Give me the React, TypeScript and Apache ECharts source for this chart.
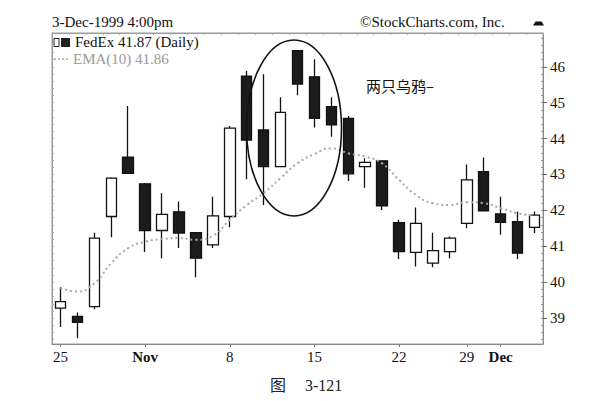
import React, { useEffect, useRef } from "react";
import * as echarts from "echarts";

// Trading days, 25-Oct-1999 .. 3-Dec-1999
const categories = [
  "1999-10-25", "1999-10-26", "1999-10-27", "1999-10-28", "1999-10-29",
  "1999-11-01", "1999-11-02", "1999-11-03", "1999-11-04", "1999-11-05",
  "1999-11-08", "1999-11-09", "1999-11-10", "1999-11-11", "1999-11-12",
  "1999-11-15", "1999-11-16", "1999-11-17", "1999-11-18", "1999-11-19",
  "1999-11-22", "1999-11-23", "1999-11-24", "1999-11-26",
  "1999-11-29", "1999-11-30", "1999-12-01", "1999-12-02", "1999-12-03",
];

const openValues = [
  39.28, 39.05, 39.32, 41.83, 43.48,
  42.74, 41.44, 41.96, 41.38, 41.04,
  41.83, 45.74, 44.24, 43.22, 46.45,
  45.72, 44.89, 44.56, 43.22, 43.38,
  41.66, 40.83, 40.53, 40.85,
  41.64, 43.08, 41.90, 41.69, 41.53,
];
const closeValues = [
  39.46, 38.88, 41.23, 42.90, 43.03,
  41.44, 41.89, 41.37, 40.67, 41.85,
  44.29, 43.96, 43.22, 44.73, 45.52,
  44.56, 44.38, 43.02, 43.34, 42.13,
  40.85, 41.64, 40.88, 41.23,
  42.85, 41.99, 41.67, 40.81, 41.87,
];
const lowValues = [
  38.75, 38.44, 39.25, 41.25, 43.03,
  40.84, 40.67, 40.95, 40.14, 40.95,
  41.53, 42.87, 42.15, 43.22, 45.21,
  44.31, 44.05, 42.82, 42.63, 42.01,
  40.65, 40.44, 40.42, 40.67,
  41.50, 41.99, 41.32, 40.65, 41.37,
];
const highValues = [
  39.86, 39.16, 41.38, 42.92, 44.91,
  42.76, 42.48, 42.25, 41.40, 42.38,
  44.35, 45.89, 45.79, 45.15, 46.47,
  46.21, 45.15, 44.63, 43.45, 43.40,
  41.74, 42.08, 41.38, 41.27,
  43.28, 43.47, 42.38, 41.97, 41.97,
];
const emaValues = [
  39.84, 39.74, 39.97, 40.53, 40.95,
  41.13, 41.20, 41.23, 41.18, 41.29,
  41.74, 42.15, 42.48, 42.90, 43.31,
  43.57, 43.73, 43.59, 43.50, 43.31,
  42.85, 42.43, 42.20, 42.15,
  42.23, 42.20, 42.06, 41.92, 41.86,
];

const xLabelIndices = [0, 5, 10, 15, 20, 24, 26];
const xLabelTexts = ["25", "Nov", "8", "15", "22", "29", "Dec"];
const xBoldLabels = ["Nov", "Dec"];
const yTickValues = [39, 40, 41, 42, 43, 44, 45, 46];

const Y_MIN = 38.28;
const Y_MAX = 46.94;

const minorTicks: number[] = [];
for (let v = 38.4; v < Y_MAX; v += 0.2) minorTicks.push(Math.round(v * 10) / 10);

const SERIF = "'Liberation Serif', 'Times New Roman', serif";

export default function App() {
  const ref = useRef<HTMLDivElement>(null);

  useEffect(() => {
    if (!ref.current) return;
    const chart = echarts.init(ref.current, null, { renderer: "svg" });
    const candleData = categories.map((_, i) => [
      openValues[i], closeValues[i], lowValues[i], highValues[i],
    ]);

    chart.setOption({
      animation: false,
      backgroundColor: "#ffffff",
      grid: {
        left: 52, right: 61, top: 33, bottom: 57,
        show: true, borderColor: "#9a9a9a", borderWidth: 1,
      },
      xAxis: [
        {
          type: "category",
          data: categories,
          boundaryGap: true,
          position: "bottom",
          axisLine: { show: true, lineStyle: { color: "#8a8a8a", width: 1 } },
          axisTick: {
            show: true,
            alignWithLabel: true,
            length: 3,
            interval: (i: number) => xLabelIndices.includes(i),
            lineStyle: { color: "#777" },
          },
          axisLabel: {
            interval: (i: number) => xLabelIndices.includes(i),
            margin: 5,
            color: "#111",
            fontFamily: SERIF,
            fontSize: 15,
            formatter: (_v: string, i: number) => {
              const k = xLabelIndices.indexOf(i);
              if (k < 0) return "";
              const t = xLabelTexts[k];
              return xBoldLabels.includes(t) ? `{b|${t}}` : t;
            },
            rich: { b: { fontWeight: "bold", fontFamily: SERIF, fontSize: 15, color: "#111" } },
          },
          splitLine: { show: false },
        },
        {
          type: "category",
          data: categories,
          boundaryGap: true,
          position: "top",
          axisLine: { show: true, lineStyle: { color: "#9a9a9a", width: 1 } },
          axisTick: { show: true, inside: true, length: 2, interval: 0, lineStyle: { color: "#aaa" } },
          axisLabel: { show: false },
          splitLine: { show: false },
        },
      ],
      yAxis: [
        {
          type: "value",
          position: "right",
          min: Y_MIN,
          max: Y_MAX,
          axisLine: { show: true, lineStyle: { color: "#8a8a8a", width: 1 } },
          axisTick: { show: true, customValues: yTickValues, length: 4, lineStyle: { color: "#666" } },
          axisLabel: {
            customValues: yTickValues,
            margin: 7,
            color: "#111",
            fontFamily: SERIF,
            fontSize: 15,
          },
          splitLine: { show: false },
        },
        {
          type: "value",
          position: "right",
          min: Y_MIN,
          max: Y_MAX,
          axisLine: { show: false },
          axisTick: { show: true, inside: true, customValues: minorTicks, length: 2, lineStyle: { color: "#999" } },
          axisLabel: { show: false },
          splitLine: { show: false },
        },
        {
          type: "value",
          position: "left",
          min: Y_MIN,
          max: Y_MAX,
          axisLine: { show: true, lineStyle: { color: "#9a9a9a", width: 1 } },
          axisTick: { show: true, inside: true, customValues: minorTicks, length: 2, lineStyle: { color: "#aaa" } },
          axisLabel: { show: false },
          splitLine: { show: false },
        },
      ],
      series: [
        {
          name: "FedEx",
          type: "candlestick",
          xAxisIndex: 0,
          yAxisIndex: 0,
          data: candleData,
          barWidth: 11,
          itemStyle: {
            color: "#ffffff",
            color0: "#1c1c1c",
            borderColor: "#111111",
            borderColor0: "#111111",
            borderWidth: 1.3,
          },
          z: 2,
        },
        {
          name: "EMA(10)",
          type: "line",
          xAxisIndex: 0,
          yAxisIndex: 0,
          data: emaValues,
          smooth: true,
          symbol: "none",
          lineStyle: { color: "#a8a8a8", width: 2, type: [2, 3] },
          z: 3,
        },
      ],
      graphic: [
        {
          type: "text", left: 52, top: 14,
          style: { text: "3-Dec-1999 4:00pm", font: `15px ${SERIF}`, fill: "#111" },
        },
        {
          type: "text", left: 360, top: 14,
          style: { text: "©StockCharts.com, Inc.", font: `15px ${SERIF}`, fill: "#111" },
        },
        {
          type: "polygon",
          shape: { points: [[533, 25.5], [535.5, 21.5], [541.5, 21.5], [544, 25.5]] },
          style: { fill: "#111" },
        },
        // legend icon (candles)
        { type: "rect", shape: { x: 54, y: 38.5, width: 5, height: 8 }, style: { fill: "#fff", stroke: "#222", lineWidth: 1 } },
        { type: "rect", shape: { x: 61, y: 38, width: 9, height: 9 }, style: { fill: "#222" } },
        {
          type: "text", left: 75, top: 34,
          style: { text: "FedEx 41.87 (Daily)", font: `15px ${SERIF}`, fill: "#111" },
        },
        {
          type: "line",
          shape: { x1: 54, y1: 59, x2: 70, y2: 59 },
          style: { stroke: "#aaa", lineWidth: 1.5, lineDash: [2, 2] },
        },
        {
          type: "text", left: 73, top: 51,
          style: { text: "EMA(10) 41.86", font: `15px ${SERIF}`, fill: "#9a9a9a" },
        },
        {
          type: "ellipse",
          shape: { cx: 294, cy: 128, rx: 47.5, ry: 88 },
          style: { fill: "none", stroke: "#111", lineWidth: 1.6 },
          z: 10,
        },
        {
          type: "text", left: 366, top: 78,
          style: { text: "两只乌鸦–", font: `15px 'Noto Sans CJK SC', sans-serif`, fill: "#111" },
        },
        {
          type: "text", left: 270, top: 376,
          style: { text: "图", font: `16px 'Noto Sans CJK SC', serif`, fill: "#222" },
        },
        {
          type: "text", left: 305, top: 377,
          style: { text: "3-121", font: `16px ${SERIF}`, fill: "#222" },
        },
      ],
    });

    return () => chart.dispose();
  }, []);

  return (
    <div
      ref={ref}
      style={{ position: "absolute", left: 0, top: 0, width: 604, height: 401, background: "#fff" }}
    />
  );
}
